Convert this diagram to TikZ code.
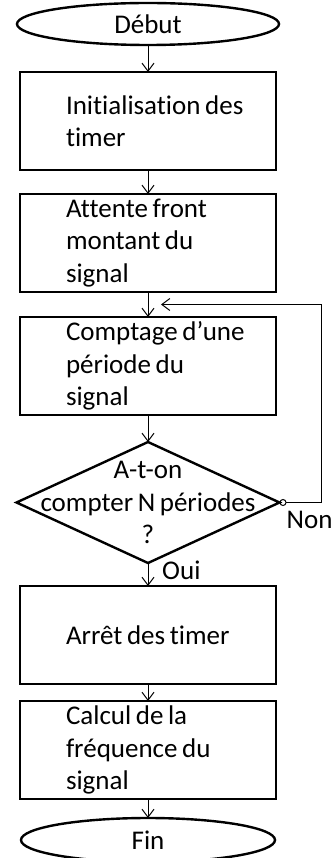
\documentclass[tikz,border=0pt]{standalone}
\usepackage{fontspec}
\setmainfont{Carlito}[Ligatures=NoCommon]
\usetikzlibrary{arrows.meta,positioning,calc,shapes.geometric}
\newcommand\flowfont{\fontsize{27}{32.5}\selectfont\spaceskip=.17em}
\tikzset{
  termnode/.style={draw, ellipse, line width=2.4pt, outer sep=0pt, minimum width=262pt, minimum height=42pt, inner sep=0pt, font=\flowfont},
  stepbox/.style={draw, rectangle, line width=2.4pt, outer sep=0pt, minimum width=256pt, minimum height=98pt, text width=210pt, inner xsep=23pt, inner ysep=0pt, align=left, font=\flowfont, execute at begin node={\leftskip=23pt\spaceskip=.17em}},
  testnode/.style={draw, diamond, line width=2.4pt, outer sep=0pt, minimum width=263pt, minimum height=121pt, inner sep=0pt},
  flowlabel/.style={inner sep=0pt, font=\flowfont},
  flowarrow/.style={-{Straight Barb[length=8pt,width=12pt]}, line width=1pt},
  loopline/.style={{Circle[open,length=7pt]}-{Straight Barb[length=8pt,width=12pt]}, line width=1pt}
}
\begin{document}
\begin{tikzpicture}[node distance=25pt]
\useasboundingbox (0,0) rectangle (332pt,-858pt);
\node[termnode] (debut) at (148pt,-24pt) {Début};
\node[stepbox, below=27pt of debut] (init) {Initialisation des\\timer};
\node[stepbox, below=24pt of init] (attente) {Attente front\\montant du\\signal};
\node[stepbox, below=25pt of attente] (comptage) {Comptage d’une\\période du\\signal};
\node[testnode, below=27pt of comptage, label={[name=testtxt, flowlabel, align=center]center:A-t-on\\compter N périodes\\?}] (test) {};
\node[stepbox, below=23pt of test] (arret) {Arrêt des timer};
\node[stepbox, below=17pt of arret] (calcul) {Calcul de la\\fréquence du\\signal};
\node[termnode, minimum width=254pt, minimum height=44pt, below=19pt of calcul] (fin) {Fin};
\node[flowlabel, below right=8pt and 7pt of test.east] (non) {Non};
\node[flowlabel, below right=-2pt and 14pt of test.south] (oui) {Oui};
\coordinate (loopin) at ($(attente.south)!0.5!(comptage.north)+(13pt,0)$);
\draw[flowarrow] (debut) -- (init);
\draw[flowarrow] (init) -- (attente);
\draw[flowarrow] (attente) -- (comptage);
\draw[flowarrow] (comptage) -- (test);
\draw[flowarrow] (test) -- (arret);
\draw[flowarrow] (arret) -- (calcul);
\draw[flowarrow] (calcul) -- (fin);
\draw[loopline] (test.east) -- ++(42pt,0) |- (loopin);
\end{tikzpicture}
\end{document}
